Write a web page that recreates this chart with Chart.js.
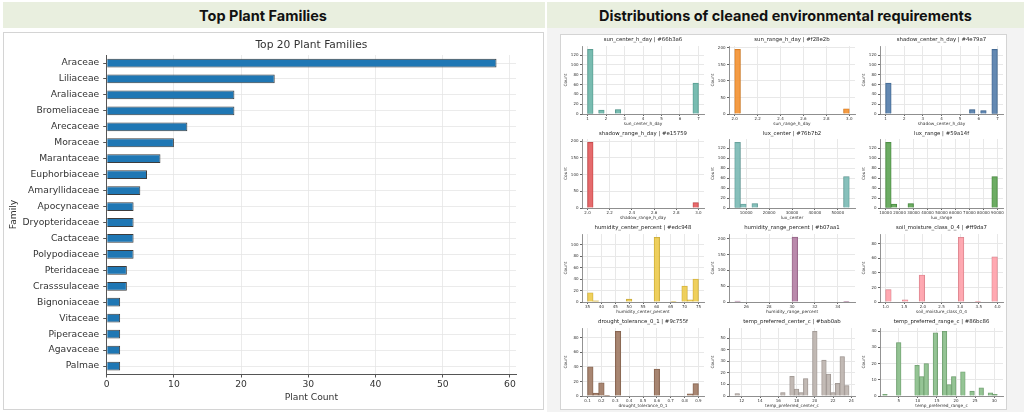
<!DOCTYPE html>
<html>
<head>
<meta charset="utf-8">
<script src="https://cdn.jsdelivr.net/npm/chart.js@4.4.0/dist/chart.umd.min.js"></script>
<style>
    body { margin: 0; width: 1024px; height: 412px; position: relative; overflow: hidden; background: #fff; font-family: Inter, "DejaVu Sans", sans-serif; }
    .band { position: absolute; background: #e9efdf; font-weight: 700; font-size: 14.5px; color: #111; display: flex; align-items: center; justify-content: center; box-sizing: border-box; }
    .box { position: absolute; background: #fff; border: 1.5px solid #d4d4d4; box-sizing: border-box; }
    canvas { position: absolute; }
</style>
</head>
<body>
<div class="band" style="left:3px;top:2px;width:542px;height:26px;padding-right:22px">Top Plant Families</div>
<div class="band" style="left:547px;top:2px;width:477px;height:26px">Distributions of cleaned environmental requirements</div>
<div style="position:absolute;left:547px;top:28px;width:477px;height:384px;background:#f3f3f3"></div>
<div class="box" style="left:3px;top:32px;width:541px;height:378px"></div>
<div class="box" style="left:560px;top:34px;width:447px;height:376px"></div>
<canvas id="famChart" width="538" height="375" style="left:4px;top:34px"></canvas>
<div id="histHolder"></div>

<script>
//-------------Данные-----------------
// Левый график: топ 20 семейств
var familyNames = ["Araceae", "Liliaceae", "Araliaceae", "Bromeliaceae", "Arecaceae", "Moraceae",
    "Marantaceae", "Euphorbiaceae", "Amaryllidaceae", "Apocynaceae", "Dryopteridaceae", "Cactaceae",
    "Polypodiaceae", "Pteridaceae", "Crasssulaceae", "Bignoniaceae", "Vitaceae", "Piperaceae",
    "Agavaceae", "Palmae"];
var familyCounts = [58, 25, 19, 19, 12, 10, 8, 6, 5, 4, 4, 4, 4, 3, 3, 2, 2, 2, 2, 2];

// Гистограммы: [начало, конец] диапазона бинов и количество в каждом бине
var sunCenterBins = [1, 7];
var sunCenterCounts = [132, 0, 8, 0, 0, 9, 0, 0, 0, 0, 0, 0, 0, 0, 0, 0, 0, 0, 0, 63];
var sunRangeBins = [2, 3];
var sunRangeCounts = [196, 0, 0, 0, 0, 0, 0, 0, 0, 0, 0, 0, 0, 0, 0, 0, 0, 0, 0, 16];
var shadowCenterBins = [1, 7];
var shadowCenterCounts = [63, 0, 0, 0, 0, 0, 0, 0, 0, 0, 0, 0, 0, 0, 0, 9, 0, 7, 0, 132];
var shadowRangeBins = [2, 3];
var shadowRangeCounts = [196, 0, 0, 0, 0, 0, 0, 0, 0, 0, 0, 0, 0, 0, 0, 0, 0, 0, 0, 16];
var luxCenterBins = [5000, 55000];
var luxCenterCounts = [132, 8, 0, 9, 0, 0, 0, 0, 0, 0, 0, 0, 0, 0, 0, 0, 0, 0, 0, 63];
var luxRangeBins = [10000, 90000];
var luxRangeCounts = [132, 8, 0, 0, 9, 0, 0, 0, 0, 0, 0, 0, 0, 0, 0, 0, 0, 0, 0, 63];
var humCenterBins = [35, 75];
var humCenterCounts = [16, 2, 0, 0, 0, 0, 0, 5, 0, 0, 0, 0, 113, 0, 0, 1, 0, 28, 4, 40];
var humRangeBins = [25, 35];
var humRangeCounts = [3, 0, 0, 0, 0, 0, 0, 0, 0, 0, 205, 0, 0, 0, 0, 0, 0, 0, 0, 1];
var soilBins = [1, 4];
var soilCounts = [17, 0, 0, 3, 0, 0, 37, 0, 0, 0, 0, 0, 0, 89, 0, 0, 1, 0, 0, 62];
var droughtBins = [0.1, 0.9];
var droughtCounts = [40, 4, 18, 1, 0, 89, 0, 0, 0, 0, 0, 0, 37, 0, 0, 0, 0, 0, 3, 17];
var tempCenterBins = [11.25, 23.75];
var tempCenterCounts = [2, 0, 0, 0, 0, 0, 0, 0, 0, 0, 3, 0, 17, 6, 3, 15, 0, 56, 0, 31, 19, 3, 11, 34, 9];
var tempRangeBins = [0.8, 30.8];
var tempRangeCounts = [1, 0, 0, 33, 0, 0, 0, 19, 12, 20, 0, 39, 0, 40, 7, 12, 0, 15, 0, 3, 0, 5, 0, 2, 1];

var panels = [
    {name: "sun_center_h_day", color: "#66b3a6", bins: sunCenterBins, counts: sunCenterCounts, xMin: 0.7, xMax: 7.3, xStep: 1, xDec: 0, yMax: 138.6, yStep: 20},
    {name: "sun_range_h_day", color: "#f28e2b", bins: sunRangeBins, counts: sunRangeCounts, xMin: 1.95, xMax: 3.05, xStep: 0.2, xDec: 1, yMax: 206, yStep: 50},
    {name: "shadow_center_h_day", color: "#4e79a7", bins: shadowCenterBins, counts: shadowCenterCounts, xMin: 0.7, xMax: 7.3, xStep: 1, xDec: 0, yMax: 138.6, yStep: 20},
    {name: "shadow_range_h_day", color: "#e15759", bins: shadowRangeBins, counts: shadowRangeCounts, xMin: 1.95, xMax: 3.05, xStep: 0.2, xDec: 1, yMax: 206, yStep: 50},
    {name: "lux_center", color: "#76b7b2", bins: luxCenterBins, counts: luxCenterCounts, xMin: 2500, xMax: 57500, xStep: 10000, xDec: 0, yMax: 138.6, yStep: 20},
    {name: "lux_range", color: "#59a14f", bins: luxRangeBins, counts: luxRangeCounts, xMin: 6000, xMax: 94000, xStep: 10000, xDec: 0, yMax: 138.6, yStep: 20},
    {name: "humidity_center_percent", color: "#edc948", bins: humCenterBins, counts: humCenterCounts, xMin: 33, xMax: 77, xStep: 5, xDec: 0, yMax: 118.7, yStep: 20},
    {name: "humidity_range_percent", color: "#b07aa1", bins: humRangeBins, counts: humRangeCounts, xMin: 24.5, xMax: 35.5, xStep: 2, xDec: 0, yMax: 215, yStep: 50},
    {name: "soil_moisture_class_0_4", color: "#ff9da7", bins: soilBins, counts: soilCounts, xMin: 0.85, xMax: 4.15, xStep: 0.5, xDec: 1, yMax: 93.5, yStep: 20},
    {name: "drought_tolerance_0_1", color: "#9c755f", bins: droughtBins, counts: droughtCounts, xMin: 0.06, xMax: 0.94, xStep: 0.1, xDec: 1, yMax: 93.5, yStep: 20},
    {name: "temp_preferred_center_c", color: "#bab0ab", bins: tempCenterBins, counts: tempCenterCounts, xMin: 10.6, xMax: 24.4, xStep: 2, xDec: 0, yMax: 58.8, yStep: 10},
    {name: "temp_preferred_range_c", color: "#86bc86", bins: tempRangeBins, counts: tempRangeCounts, xMin: 0.1, xMax: 32.3, xStep: 5, xDec: 0, yMax: 42, yStep: 10}
];

//-----------Раскладка сетки справа (пиксели страницы)-----------
var colLeft = [582, 729, 880], colRight = [704, 855, 1003];
var rowTitle = [40, 134, 228, 322], rowTop = [46, 139, 234, 328], rowBottom = [114, 208, 302, 396];

var FONT = "DejaVu Sans";

function hexToRgba(hex, a, k) {
    var r = parseInt(hex.substr(1, 2), 16) * k, g = parseInt(hex.substr(3, 2), 16) * k, b = parseInt(hex.substr(5, 2), 16) * k;
    return "rgba(" + Math.round(r) + "," + Math.round(g) + "," + Math.round(b) + "," + a + ")";
}

//-----------Левый график-----------
function BuildFamilyChart() {
    var ctx = document.getElementById("famChart").getContext("2d");
    return new Chart(ctx, {
        type: "bar",
        data: {
            labels: familyNames,
            datasets: [{
                data: familyCounts,
                backgroundColor: "#1f77b4",
                borderColor: "#3c3c3c",
                borderWidth: 1,
                barPercentage: 0.55,
                categoryPercentage: 1
            }]
        },
        options: {
            indexAxis: "y",
            responsive: false,
            animation: false,
            events: [],
            layout: {padding: {left: 0, right: 26, top: 0, bottom: 0}},
            plugins: {
                legend: {display: false},
                tooltip: {enabled: false},
                title: {
                    display: true, text: "Top 20 Plant Families", fullSize: false, color: "#333",
                    font: {family: FONT, size: 10.7, weight: "normal"}, padding: {top: 4.6, bottom: 3.6}
                }
            },
            scales: {
                x: {
                    type: "linear", min: 0, max: 60.9, z: 1,
                    afterFit: function (s) { s.height = 35; },
                    ticks: {stepSize: 10, includeBounds: false, color: "#333", padding: 2, font: {family: FONT, size: 9.2}},
                    grid: {color: "rgba(228,228,228,0.75)", tickColor: "#555", tickLength: 3.5},
                    border: {display: true, color: "#555", width: 1},
                    title: {display: true, text: "Plant Count", color: "#333", font: {family: FONT, size: 9.2}, padding: {top: 0, bottom: 5.8}}
                },
                y: {
                    z: 1,
                    afterFit: function (s) { s.width = 102.7; },
                    ticks: {autoSkip: false, color: "#333", padding: 4, font: {family: FONT, size: 9.2}},
                    grid: {offset: false, color: "rgba(228,228,228,0.75)", tickColor: "#555", tickLength: 3.5},
                    border: {display: true, color: "#555", width: 1},
                    title: {display: true, text: "Family", color: "#333", font: {family: FONT, size: 9.2}, padding: {top: 4.5, bottom: 0}}
                }
            }
        }
    });
}

//-----------Гистограммы-----------
function BuildHist(p, idx) {
    var col = idx % 3, row = Math.floor(idx / 3);
    var L = colLeft[col] - 26, T = rowTitle[row] - 5;
    var W = colRight[col] + 8 - L, H = rowBottom[row] + 13 - T;
    var cv = document.createElement("canvas");
    cv.width = W; cv.height = H;
    cv.style.left = L + "px"; cv.style.top = T + "px";
    document.getElementById("histHolder").appendChild(cv);

    var lo = p.bins[0], hi = p.bins[1], w = (hi - lo) / p.counts.length;
    var points = p.counts.map(function (c, i) { return {x: lo + (i + 0.5) * w, y: c}; });
    var titleSize = 5.4, lh = titleSize * 1.2;

    return new Chart(cv.getContext("2d"), {
        type: "bar",
        data: {
            datasets: [{
                data: points,
                backgroundColor: hexToRgba(p.color, 0.88, 1),
                borderColor: hexToRgba(p.color, 1, 0.8),
                borderWidth: 0.6,
                barPercentage: 1,
                categoryPercentage: 1
            }]
        },
        options: {
            responsive: false,
            animation: false,
            events: [],
            layout: {padding: {left: 0, right: 8, top: 0, bottom: 0}},
            plugins: {
                legend: {display: false},
                tooltip: {enabled: false},
                title: {
                    display: true, text: p.name + " | " + p.color, fullSize: false, color: "#222",
                    font: {family: FONT, size: titleSize, weight: "normal"},
                    padding: {top: 5 - lh / 2, bottom: rowTop[row] - rowTitle[row] - lh / 2}
                }
            },
            scales: {
                x: {
                    type: "linear", offset: false, min: p.xMin, max: p.xMax,
                    afterFit: function (s) { s.height = 13; },
                    // метки оси X с шагом xStep внутри [xMin, xMax]
                    afterBuildTicks: function (s) {
                        var t = [];
                        for (var v = Math.ceil(p.xMin / p.xStep - 1e-9) * p.xStep; v <= p.xMax + 1e-9; v += p.xStep) {
                            t.push({value: +v.toFixed(6)});
                        }
                        s.ticks = t;
                    },
                    ticks: {
                        autoSkip: false, maxRotation: 0, color: "#333", padding: 1,
                        font: {family: FONT, size: 4},
                        callback: function (v) { return v.toFixed(p.xDec); }
                    },
                    grid: {offset: false, color: "#e8e8e8", tickColor: "#666", tickLength: 2},
                    border: {display: true, color: "#777", width: 0.8},
                    title: {display: true, text: p.name, color: "#333", font: {family: FONT, size: 4.3}, padding: {top: 0, bottom: 1}}
                },
                y: {
                    min: 0, max: p.yMax,
                    afterFit: function (s) { s.width = 26; },
                    ticks: {
                        stepSize: p.yStep, includeBounds: false, color: "#333", padding: 1.5,
                        font: {family: FONT, size: 4},
                        callback: function (v) { return v.toFixed(0); }
                    },
                    grid: {color: "#e8e8e8", tickColor: "#666", tickLength: 2},
                    border: {display: true, color: "#777", width: 0.8},
                    title: {display: true, text: "Count", color: "#333", font: {family: FONT, size: 4.3}, padding: {top: 7, bottom: 0}}
                }
            }
        }
    });
}

function StartPage() {
    BuildFamilyChart();
    panels.forEach(function (p, i) { BuildHist(p, i); });
}
StartPage();
</script>
</body>
</html>
